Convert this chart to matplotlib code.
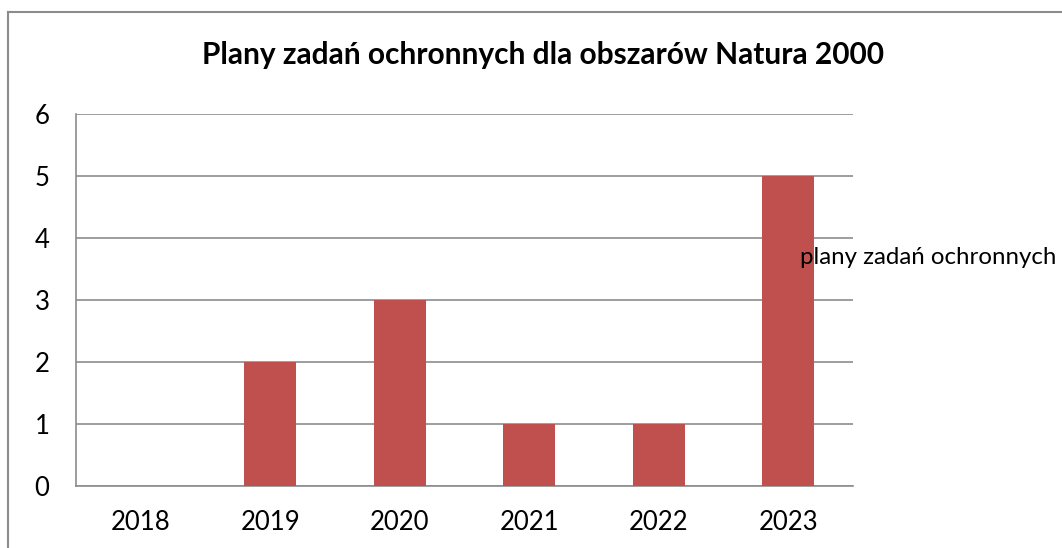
import matplotlib.pyplot as plt

years = ['2018', '2019', '2020', '2021', '2022', '2023']
plans = [0, 2, 3, 1, 1, 5]
y_ticks = [0, 1, 2, 3, 4, 5, 6]

title = 'Plany zadań ochronnych dla obszarów Natura 2000'
series_name = 'plany zadań ochronnych'

plt.rcParams['font.family'] = ['Lato', 'DejaVu Sans']

W, H = 1062, 548
fig = plt.figure(figsize=(W / 100, H / 100), dpi=100)

# outer chart frame (only left and top edges visible)
fig.add_artist(plt.Line2D([8 / W, 8 / W], [0, 1 - 12 / H], color='#8c8c8c', lw=1.5))
fig.add_artist(plt.Line2D([8 / W, 1], [1 - 12 / H, 1 - 12 / H], color='#8c8c8c', lw=1.5))

ax = fig.add_axes([76 / W, (H - 486) / H, (853 - 76) / W, (486 - 114) / H])
x = range(len(years))
ax.bar(x, plans, width=0.4, color='#c0504d', zorder=3)

ax.set_xlim(-0.5, len(years) - 0.5)
ax.set_ylim(0, 6)
ax.set_yticks(y_ticks)
ax.set_xticks(list(x))
ax.set_xticklabels(years)
ax.yaxis.grid(True, color='#8c8c8c', lw=1.2)
ax.set_axisbelow(True)
ax.tick_params(length=0, labelsize=18.5)
ax.tick_params(axis='y', pad=19)
ax.tick_params(axis='x', pad=17)
for s in ['top', 'right']:
    ax.spines[s].set_visible(False)
for s in ['left', 'bottom']:
    ax.spines[s].set_color('#8c8c8c')
    ax.spines[s].set_linewidth(1.2)

fig.text(543 / W, 1 - 55 / H, title, ha='center', va='center', fontsize=21.5, fontweight='bold')
fig.text(800 / W, 1 - 257 / H, series_name, ha='left', va='center', fontsize=17.3)

fig.savefig('out.png', dpi=100)
